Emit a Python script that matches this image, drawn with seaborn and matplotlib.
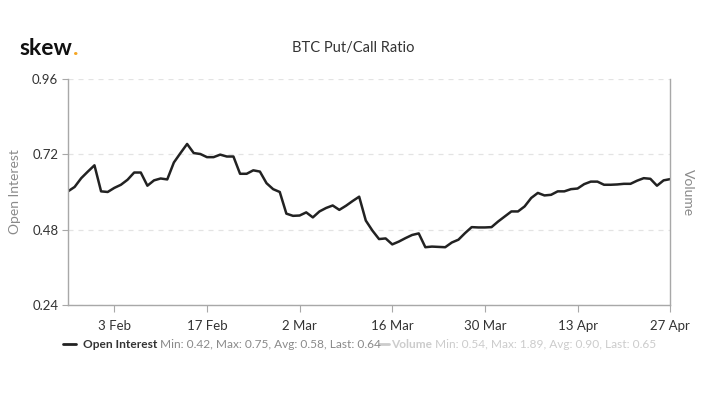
import matplotlib
matplotlib.use("Agg")
import matplotlib.pyplot as plt
import numpy as np
import pandas as pd
import seaborn as sns

# daily put/call ratio (open interest), 27 Jan -> 27 Apr 2020
start_date = "2020-01-27"
oi_ratio = [
    0.602, 0.616, 0.644, 0.665, 0.685, 0.602, 0.600, 0.613, 0.623, 0.639,
    0.662, 0.662, 0.620, 0.637, 0.643, 0.640, 0.694, 0.724, 0.753, 0.724,
    0.721, 0.711, 0.711, 0.719, 0.713, 0.713, 0.658, 0.658, 0.669, 0.665,
    0.628, 0.609, 0.600, 0.531, 0.524, 0.525, 0.535, 0.519, 0.538, 0.549,
    0.557, 0.543, 0.556, 0.571, 0.585, 0.509, 0.477, 0.450, 0.452, 0.433,
    0.442, 0.453, 0.463, 0.468, 0.424, 0.426, 0.425, 0.424, 0.439, 0.448,
    0.469, 0.488, 0.487, 0.487, 0.488, 0.506, 0.522, 0.538, 0.538, 0.554,
    0.581, 0.597, 0.589, 0.591, 0.602, 0.602, 0.609, 0.611, 0.625, 0.633,
    0.633, 0.623, 0.623, 0.624, 0.626, 0.626, 0.636, 0.644, 0.642, 0.620,
    0.637, 0.641,
]
y_ticks = [0.24, 0.48, 0.72, 0.96]
x_tick_dates = ["2020-02-03", "2020-02-17", "2020-03-02", "2020-03-16",
                "2020-03-30", "2020-04-13", "2020-04-27"]
x_tick_labels = ["3 Feb", "17 Feb", "2 Mar", "16 Mar", "30 Mar", "13 Apr", "27 Apr"]
oi_stats = "Min: 0.42, Max: 0.75, Avg: 0.58, Last: 0.64"
vol_stats = "Min: 0.54, Max: 1.89, Avg: 0.90, Last: 0.65"

df = pd.DataFrame({
    "date": pd.date_range(start_date, periods=len(oi_ratio), freq="D"),
    "ratio": oi_ratio,
})

sns.set_theme(style="white")
plt.rcParams["font.family"] = ["Lato", "DejaVu Sans"]

fig = plt.figure(figsize=(7.06, 3.93), dpi=100)
ax = fig.add_axes([0.0963, 0.224, 0.853, 0.575])

sns.lineplot(data=df, x="date", y="ratio", ax=ax, color="#222222", linewidth=1.8)

ax.set_xlim(df["date"].iloc[0], df["date"].iloc[-1])
ax.set_ylim(y_ticks[0], y_ticks[-1])
ax.set_yticks(y_ticks)
ax.set_yticklabels([f"{v:.2f}" for v in y_ticks])
ax.set_xticks(pd.to_datetime(x_tick_dates))
ax.set_xticklabels(x_tick_labels)

ax.grid(axis="y", color="#e3e3e3", linestyle=(0, (4, 4)), linewidth=0.9)
ax.grid(axis="x", visible=False)

for side in ["left", "right", "bottom"]:
    ax.spines[side].set_visible(True)
    ax.spines[side].set_color("#a8a8a8")
    ax.spines[side].set_linewidth(1.0)
ax.spines["top"].set_visible(False)

ax.tick_params(axis="x", bottom=True, length=5, width=0.8, color="#a8a8a8",
               labelsize=9.5, labelcolor="#333333", pad=6)
ax.tick_params(axis="y", left=True, length=4, width=0.8, color="#a8a8a8",
               labelsize=9.5, labelcolor="#333333", pad=3)

ax.set_xlabel("")
ax.set_ylabel("Open Interest", fontsize=10, color="#8a8a8a", labelpad=8)

fig.text(0.975, 0.51, "Volume", rotation=-90, ha="center", va="center",
         fontsize=10, color="#8a8a8a")

# header
fig.text(0.5, 0.877, "BTC Put/Call Ratio", ha="center", va="center",
         fontsize=10.5, color="#333333")
logo = fig.text(0.028, 0.877, "skew", ha="left", va="center",
                fontsize=16.5, fontweight="bold", color="#111111")

# legend row built from chained text pieces
fig.canvas.draw()
renderer = fig.canvas.get_renderer()
W, H = fig.bbox.width, fig.bbox.height

bb = logo.get_window_extent(renderer)
fig.text(bb.x1 / W, 0.877, ".", ha="left", va="center",
         fontsize=16.5, fontweight="bold", color="#f5a623")

leg_y = 1 - 344 / 393
fig.add_artist(plt.Line2D([63 / W, 76 / W], [leg_y, leg_y], transform=fig.transFigure,
                          color="#222222", linewidth=2))


def chain(x_px, text, color, bold=False):
    t = fig.text(x_px / W, leg_y, text, ha="left", va="center", fontsize=8.6,
                 color=color, fontweight="bold" if bold else "normal")
    return t.get_window_extent(renderer).x1


x = chain(83, "Open Interest", "#333333", bold=True)
x = chain(x + 3, oi_stats, "#8a8a8a")
fig.add_artist(plt.Line2D([(x - 2) / W, (x + 8) / W], [leg_y, leg_y],
                          transform=fig.transFigure, color="#cccccc", linewidth=2))
x = chain(x + 10, "Volume", "#cccccc", bold=True)
chain(x + 3, vol_stats, "#cccccc")

fig.savefig("out.png", dpi=100)
